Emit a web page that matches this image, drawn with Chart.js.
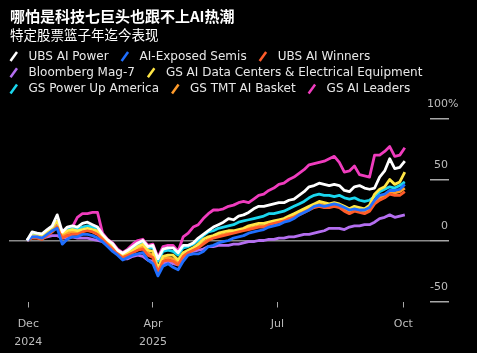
<!DOCTYPE html>
<html>
<head>
<meta charset="utf-8">
<script src="https://cdn.jsdelivr.net/npm/chart.js@4.4.1/dist/chart.umd.min.js"></script>
<style>
  html, body { margin: 0; padding: 0; background: #000; }
</style>
</head>
<body>
<canvas id="myChart" width="477" height="353"></canvas>
<script>
const ctx = document.getElementById('myChart');

const title = '哪怕是科技七巨头也跟不上AI热潮';
const subtitle = '特定股票篮子年迄今表现';

// x axis: sample steps from the start of Dec 2024 to early Oct 2025
const tickSteps = [0.26, 25, 49.7, 74.7];
const tickLabels = [['Dec', '2024'], ['Apr', '2025'], ['Jul'], ['Oct']];
const yTicks = [-50, 0, 50, 100];

// year-to-date performance, %
const ubsAiPower = [0, 7, 6, 5.5, 9, 12, 21, 7, 11, 12, 11, 14, 15, 13, 11, 5, 0.5, -2.5, -8, -10.5,
  -8, -5, -2, 0, -5, -4, -15, -7, -6, -6, -10, -4, -4, -2, 2, 5, 8, 11, 13, 15,
  18, 17, 20, 21, 23, 26, 28, 28, 29, 30, 31, 31, 33, 34, 37, 40, 44, 45, 47, 46,
  45, 46, 45, 41, 40, 44, 45, 43, 42, 43, 52, 57, 67, 59, 60, 65];
const aiExposedSemis = [0, 3, 3, 2, 5, 8, 10, -3, 1, 3, 3, 5, 5, 4, 2, -1, -5, -9, -12, -16,
  -14, -12, -11, -10, -16, -19, -29, -21, -19, -22, -24, -17, -12, -11, -11, -9, -5, -4, -2, -1,
  0, 2, 3, 4, 6, 7, 8, 9, 11, 12, 13, 15, 16, 18, 21, 23, 25, 28, 29, 28,
  29, 30, 29, 27, 25, 26, 25, 25, 27, 33, 37, 38, 41, 41, 42, 46];
const ubsAiWinners = [0, 2, 2, 1, 4, 7, 11, 2, 4, 5, 5, 7, 8, 7, 5, 1, -3, -7, -11, -14,
  -12, -10, -8, -7, -12, -14, -26, -17, -16, -17, -20, -13, -10, -8, -6, -3, 0, 2, 3, 4,
  5, 6, 7, 8, 9, 10, 11, 11, 13, 14, 15, 16, 18, 19, 21, 23, 25, 27, 28, 27,
  27, 28, 27, 24, 22, 24, 23, 22, 24, 30, 33, 35, 38, 37, 37, 40];
const bloombergMag7 = [0, 3, 3, 2, 3, 4, 4, 2, 2, 3, 2, 2, 2, 1, 0, -1, -4, -7, -11, -15,
  -15, -13, -12, -13, -16, -17, -25, -19, -17, -19, -20, -14, -10, -9, -8, -7, -5, -5, -4, -4,
  -4, -3, -3, -2, -1, -1, 0, 0, 1, 1, 2, 2, 3, 3, 4, 5, 5, 6, 7, 8,
  10, 10, 10, 9, 11, 12, 12, 13, 13, 15, 18, 19, 21, 19, 20, 21];
const gsAiDataCenters = [0, 4, 4, 3, 7, 11, 16, 6, 8, 9, 8, 9, 10, 9, 8, 3, -2, -5, -10, -12,
  -10, -8, -5, -3, -8, -9, -23, -13, -12, -12, -16, -10, -8, -6, -3, 1, 3, 4, 6, 7,
  8, 8, 9, 10, 12, 13, 14, 14, 15, 16, 17, 18, 20, 22, 24, 26, 28, 30, 32, 31,
  30, 31, 30, 28, 26, 28, 27, 26, 29, 38, 42, 44, 50, 46, 48, 56];
const gsPowerUpAmerica = [0, 6, 5, 4, 8, 11, 16, 7, 9, 10, 9, 11, 12, 11, 10, 4, -1, -4, -9, -11,
  -8, -6, -3, -1, -6, -6, -17, -9, -8, -9, -12, -6, -5, -3, 0, 4, 7, 8, 10, 11,
  12, 13, 15, 16, 17, 18, 19, 20, 22, 22, 23, 24, 26, 28, 30, 32, 35, 37, 38, 37,
  37, 36, 37, 35, 34, 35, 33, 32, 33, 36, 40, 42, 44, 43, 45, 48];
const gsTmtAiBasket = [0, 3, 3, 2, 5, 8, 12, 4, 6, 7, 7, 8, 9, 8, 7, 2, -2, -6, -10, -13,
  -11, -9, -7, -5, -10, -12, -24, -15, -14, -15, -18, -12, -9, -7, -5, -2, 1, 3, 4, 5,
  6, 7, 8, 9, 10, 11, 12, 12, 14, 15, 16, 17, 19, 20, 22, 24, 27, 29, 30, 29,
  29, 30, 29, 26, 24, 26, 25, 24, 26, 32, 35, 37, 40, 39, 40, 43];
const gsAiLeaders = [0, 5, 5, 4, 7, 10, 15, 8, 9, 11, 19, 22, 22, 23, 23, 6, 1, -2, -7, -10,
  -7, -3, 0, 1, -4, -3, -14, -5, -4, -4, -9, 3, 6, 11, 13, 18, 22, 25, 25, 26,
  28, 29, 31, 32, 31, 34, 37, 38, 41, 43, 46, 47, 50, 52, 55, 58, 62, 63, 64, 65,
  67, 69, 64, 56, 57, 61, 54, 53, 52, 70, 70, 73, 77, 69, 70, 76];

const steps = ubsAiPower.map((v, i) => i);

function series(label, data, color) {
  return {
    label: label,
    data: data,
    borderColor: color,
    backgroundColor: color,
    borderWidth: 2.8,
    pointRadius: 0,
    tension: 0,
    borderJoinStyle: 'round'
  };
}

// Title, legend and y tick labels drawn on top of the chart
const overlay = {
  id: 'overlay',
  afterDraw(chart) {
    const c = chart.ctx;
    c.save();
    c.textBaseline = 'middle';
    c.textAlign = 'left';
    c.fillStyle = '#ffffff';
    c.font = 'bold 15px "Noto Sans CJK SC"';
    c.fillText(title, 10, 16);
    c.font = '13.5px "Noto Sans CJK SC"';
    c.fillText(subtitle, 10, 35);

    // legend with slash markers
    c.font = '12px "DejaVu Sans"';
    let x = 10, y = 56.5;
    chart.data.datasets.forEach(ds => {
      const w = c.measureText(ds.label).width;
      if (x + 18.5 + w > 467) { x = 10; y += 16.3; }
      c.strokeStyle = ds.borderColor;
      c.lineWidth = 2.5;
      c.beginPath();
      c.moveTo(x + 0.5, y + 4.5);
      c.lineTo(x + 7, y - 4.5);
      c.stroke();
      c.fillStyle = '#e8e8e8';
      c.fillText(ds.label, x + 18.5, y);
      x += 18.5 + w + 12.5;
    });

    // y labels sit above their tick marks
    const ys = chart.scales.y;
    c.font = '11px "DejaVu Sans"';
    c.fillStyle = '#bdbdbd';
    yTicks.forEach(v => {
      const py = ys.getPixelForValue(v) - 14;
      c.textAlign = 'right';
      c.fillText(String(v), ys.right - 1, py);
      if (v === 100) {
        c.textAlign = 'left';
        c.fillText('%', ys.right - 1, py);
      }
    });
    c.restore();
  }
};

Chart.defaults.font.family = '"DejaVu Sans"';

const myChart = new Chart(ctx, {
  type: 'line',
  data: {
    labels: steps,
    datasets: [
      series('UBS AI Power', ubsAiPower, '#ffffff'),
      series('AI-Exposed Semis', aiExposedSemis, '#1f6fff'),
      series('UBS AI Winners', ubsAiWinners, '#ff5c2a'),
      series('Bloomberg Mag-7', bloombergMag7, '#b46ef0'),
      series('GS AI Data Centers & Electrical Equipment', gsAiDataCenters, '#ffe646'),
      series('GS Power Up America', gsPowerUpAmerica, '#1ad6ee'),
      series('GS TMT AI Basket', gsTmtAiBasket, '#ff9b2b'),
      series('GS AI Leaders', gsAiLeaders, '#f03cbe')
    ]
  },
  options: {
    responsive: false,
    animation: false,
    layout: { padding: { left: 9, right: 28, top: 118.5, bottom: 2 } },
    plugins: { legend: { display: false }, tooltip: { enabled: false } },
    scales: {
      x: {
        type: 'linear',
        min: -3.57,
        max: 80,
        afterBuildTicks: s => { s.ticks = tickSteps.map(v => ({ value: v })); },
        afterFit: s => { s.height = 49.5; },
        ticks: {
          color: '#bdbdbd',
          font: { size: 11, lineHeight: 1.67 },
          padding: 7,
          maxRotation: 0,
          autoSkip: false,
          callback: (v, i) => tickLabels[i]
        },
        grid: { drawOnChartArea: false, tickLength: 6, tickColor: '#a8a8a8', lineWidth: 1 },
        border: { display: false }
      },
      y: {
        position: 'right',
        min: -50,
        max: 100,
        afterBuildTicks: s => { s.ticks = yTicks.map(v => ({ value: v })); },
        afterFit: s => { s.width = 19; },
        ticks: { display: false },
        grid: {
          color: c => (c.tick && c.tick.value === 0) ? '#8a8a8a' : 'rgba(0,0,0,0)',
          tickColor: '#a8a8a8',
          tickLength: 19,
          lineWidth: 1.5
        },
        border: { display: false }
      }
    }
  },
  plugins: [overlay]
});
</script>
</body>
</html>
